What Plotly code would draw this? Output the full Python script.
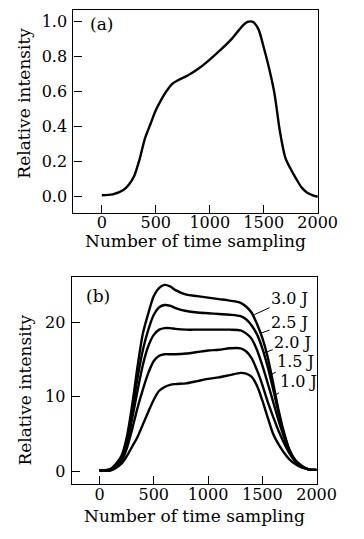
import plotly.graph_objects as go

# ---------- data ----------
x_samples = [0, 100, 200, 250, 300, 350, 400, 450, 500, 550, 600, 650, 700, 800, 900,
             1000, 1100, 1200, 1300, 1350, 1400, 1450, 1500, 1550, 1600, 1650, 1700,
             1750, 1800, 1850, 1900, 1950, 2000]

rel_a = [0.005, 0.01, 0.035, 0.065, 0.115, 0.21, 0.33, 0.41, 0.49, 0.55, 0.60, 0.64, 0.66,
         0.69, 0.73, 0.78, 0.835, 0.895, 0.97, 0.995, 0.995, 0.955, 0.85, 0.73, 0.585,
         0.37, 0.22, 0.155, 0.10, 0.05, 0.02, 0.005, -0.004]

e30 = [0.15, 0.3, 2.0, 4.5, 8.8, 14.0, 18.5, 21.2, 23.5, 24.6, 25.0, 24.8, 24.3, 23.7, 23.5,
       23.3, 23.1, 22.9, 22.6, 22.1, 21.3, 19.8, 17.9, 15.3, 11.8, 8.2, 5.2, 2.9, 1.6, 0.9,
       0.4, 0.2, 0.2]
e25 = [0.15, 0.25, 1.8, 4.0, 8.0, 12.5, 16.3, 19.0, 21.0, 22.0, 22.3, 22.2, 21.9, 21.5, 21.3,
       21.2, 21.1, 21.0, 20.8, 20.4, 19.6, 18.4, 16.5, 14.0, 11.0, 7.8, 5.0, 2.8, 1.5, 0.8,
       0.4, 0.2, 0.2]
e20 = [0.15, 0.2, 1.5, 3.5, 7.0, 10.8, 14.3, 16.8, 18.3, 19.0, 19.2, 19.2, 19.1, 19.0, 19.0,
       19.0, 19.0, 19.0, 18.9, 18.5, 17.8, 16.3, 14.2, 11.8, 9.3, 6.8, 4.6, 2.7, 1.5, 0.8,
       0.4, 0.2, 0.2]
e15 = [0.15, 0.15, 1.3, 3.0, 5.6, 8.5, 11.0, 13.2, 14.8, 15.5, 15.7, 15.7, 15.7, 15.8, 16.0,
       16.2, 16.3, 16.5, 16.5, 16.1, 15.2, 13.6, 11.6, 9.3, 7.3, 5.4, 3.8, 2.4, 1.4, 0.8,
       0.4, 0.2, 0.2]
e10 = [0.15, 0.1, 1.0, 2.0, 3.3, 4.6, 6.3, 8.0, 9.6, 10.8, 11.3, 11.6, 11.7, 11.8, 12.1,
       12.4, 12.6, 12.9, 13.2, 13.1, 12.7, 11.5, 9.5, 7.2, 5.0, 3.6, 2.5, 1.6, 1.0, 0.6,
       0.35, 0.2, 0.2]

series_b = [e30, e25, e20, e15, e10]
energy_labels = ["3.0 J", "2.5 J", "2.0 J", "1.5 J", "1.0 J"]
# label text centres and leader-line ends (data coords of panel b)
label_pos = [(1751, 23.2), (1751, 19.9), (1780, 17.3), (1809, 14.7), (1832, 12.0)]
leader_end = [(1426, 21.0), (1482, 18.5), (1519, 15.9), (1571, 12.9), (1615, 10.2)]

x_ticks = [0, 500, 1000, 1500, 2000]
ya_ticks = [0.0, 0.2, 0.4, 0.6, 0.8, 1.0]
yb_ticks = [0, 10, 20]

# ---------- figure ----------
W, H = 364, 539
FONT = "DejaVu Serif"
fig = go.Figure()

fig.add_trace(go.Scatter(x=x_samples, y=rel_a, mode="lines", line=dict(color="black", width=2.4, shape="spline", smoothing=0.8),
                         xaxis="x", yaxis="y", showlegend=False, hoverinfo="skip"))
for ser in series_b:
    fig.add_trace(go.Scatter(x=x_samples, y=ser, mode="lines", line=dict(color="black", width=2.4, shape="spline", smoothing=0.8),
                             xaxis="x2", yaxis="y2", showlegend=False, hoverinfo="skip"))

def px_x(p):
    return p / W

def px_y(p):
    return 1 - p / H

axis_common = dict(showgrid=False, zeroline=False, showline=True, linecolor="black", linewidth=1.3,
                   mirror=True, ticks="inside", ticklen=8, tickwidth=1.2, tickcolor="black",
                   tickfont=dict(family=FONT, size=16, color="black"))

fig.update_layout(
    width=W, height=H, margin=dict(l=0, r=0, t=0, b=0),
    paper_bgcolor="white", plot_bgcolor="white",
    xaxis=dict(domain=[px_x(77.7), px_x(336.7)], range=[-263, 2005], tickvals=x_ticks,
               anchor="y", ticklabelstandoff=-5, **axis_common),
    yaxis=dict(domain=[px_y(212.7), px_y(10)], range=[-0.095, 1.063], tickvals=ya_ticks,
               tickformat=".1f", anchor="x", ticklabelstandoff=2, **axis_common),
    xaxis2=dict(domain=[px_x(76), px_x(335)], range=[-255, 2000], tickvals=x_ticks,
                anchor="y2", ticklabelstandoff=-4, **axis_common),
    yaxis2=dict(domain=[px_y(484), px_y(276.7)], range=[-1.7, 26.1], tickvals=yb_ticks,
                anchor="x2", ticklabelstandoff=2, **axis_common),
)

tfont = dict(family=FONT, size=17, color="black")
ann = []
ann.append(dict(text="Number of time sampling", x=px_x(207), y=px_y(241), xref="paper", yref="paper",
                showarrow=False, font=tfont, xanchor="center", yanchor="middle"))
ann.append(dict(text="Number of time sampling", x=px_x(206), y=px_y(516), xref="paper", yref="paper",
                showarrow=False, font=tfont, xanchor="center", yanchor="middle"))
ann.append(dict(text="Relative intensity", x=px_x(25), y=px_y(103), xref="paper", yref="paper",
                showarrow=False, font=tfont, textangle=-90, xanchor="center", yanchor="middle"))
ann.append(dict(text="Relative intensity", x=px_x(26), y=px_y(390), xref="paper", yref="paper",
                showarrow=False, font=tfont, textangle=-90, xanchor="center", yanchor="middle"))
ann.append(dict(text="(a)", x=px_x(107.5), y=px_y(24.5), xref="paper", yref="paper",
                showarrow=False, font=dict(family=FONT, size=17, color="black"), xanchor="center", yanchor="middle"))
ann.append(dict(text="(b)", x=px_x(104), y=px_y(295.5), xref="paper", yref="paper",
                showarrow=False, font=dict(family=FONT, size=17, color="black"), xanchor="center", yanchor="middle"))
for lab, (tx, ty), (hx, hy) in zip(energy_labels, label_pos, leader_end):
    ann.append(dict(text=lab, x=hx, y=hy, ax=tx, ay=ty, xref="x2", yref="y2", axref="x2", ayref="y2",
                    showarrow=True, arrowhead=0, arrowwidth=1, arrowcolor="black", standoff=0,
                    font=dict(family=FONT, size=16, color="black")))
fig.update_layout(annotations=ann)

fig.write_html("out.html", config={"displayModeBar": False},
               post_script="document.body.style.margin='0';document.body.style.overflow='hidden';")
